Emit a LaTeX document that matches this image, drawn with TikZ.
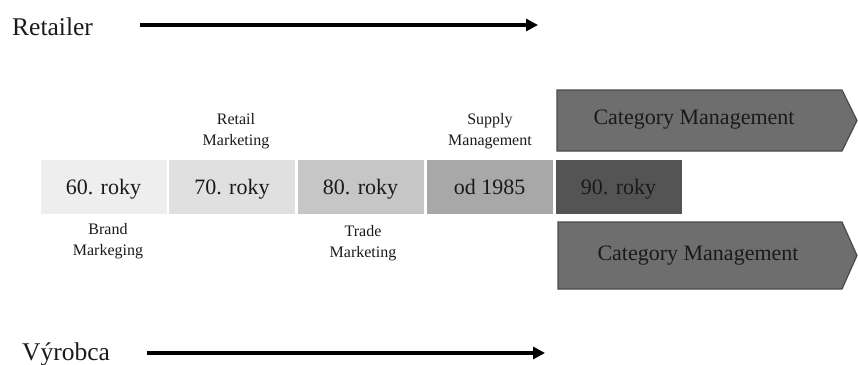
\documentclass[tikz,border=0pt]{standalone}
\usepackage{fontspec}
\setmainfont{Liberation Serif}
\usetikzlibrary{arrows.meta}
\definecolor{shadeA}{HTML}{EEEEEE}
\definecolor{shadeB}{HTML}{E0E0E0}
\definecolor{shadeC}{HTML}{C6C6C6}
\definecolor{shadeD}{HTML}{A8A8A8}
\definecolor{shadeE}{HTML}{545454}
\definecolor{catfill}{HTML}{6E6E6E}
\definecolor{catline}{HTML}{4A4A4A}
\definecolor{ink}{HTML}{1A1A1A}
\tikzset{
  yearbox/.style={rectangle, minimum width=126pt, minimum height=54pt, inner sep=0pt,
    text height=17pt, text depth=3pt,
    font=\fontsize{22}{26}\selectfont, text=ink},
  phase/.style={align=center, font=\fontsize{16}{21}\selectfont, text=ink, inner sep=0pt},
  actor/.style={anchor=base west, font=\fontsize{25.5}{30}\selectfont, text=ink, inner sep=0pt},
  timeline/.style={line width=3.5pt, -{Triangle[length=12pt,width=12pt]}},
  catshape/.style={fill=catfill, draw=catline, line width=1.2pt},
  cattext/.style={font=\fontsize{22}{26}\selectfont, text=ink, inner sep=0pt}
}
\begin{document}
\begin{tikzpicture}[x=1pt, y=-1pt]
\useasboundingbox (0,0) rectangle (858,364);

% actors with their time arrows
\node[actor] (retailer) at (12,35) {Retailer};
\coordinate (rs) at (140,25);
\coordinate (re) at (538,25);
\draw[timeline] (rs) -- (re);

\node[actor] (vyrobca) at (22,360) {Výrobca};
\coordinate (vs) at (147,353);
\coordinate (ve) at (545,353);
\draw[timeline] (vs) -- (ve);

% decades
\node[yearbox, fill=shadeA] (y60) at (103.5,187) {60. roky};
\node[yearbox, fill=shadeB] (y70) at (232,187) {70. roky};
\node[yearbox, fill=shadeC] (y80) at (360.5,187) {80. roky};
\node[yearbox, fill=shadeD] (y85) at (489.5,187) {od 1985};
\node[yearbox, fill=shadeE] (y90) at (618.5,187) {90. roky};

% phase labels
\node[phase] (retail) at (236,131) {Retail\\Marketing};
\node[phase] (supply) at (490,131) {Supply\\Management};
\node[phase] (brand) at (108,241) {Brand\\Markeging};
\node[phase] (trade) at (363,243) {Trade\\Marketing};

% category management arrows
\draw[catshape] (557,90) -- (842,90) -- (857,120.5) -- (842,151) -- (557,151) -- cycle;
\node[cattext] (cmtop) at (694,120) {Category Management};
\draw[catshape] (558,222) -- (842,222) -- (857,255.5) -- (842,289) -- (558,289) -- cycle;
\node[cattext] (cmbot) at (698,256) {Category Management};
\end{tikzpicture}
\end{document}
